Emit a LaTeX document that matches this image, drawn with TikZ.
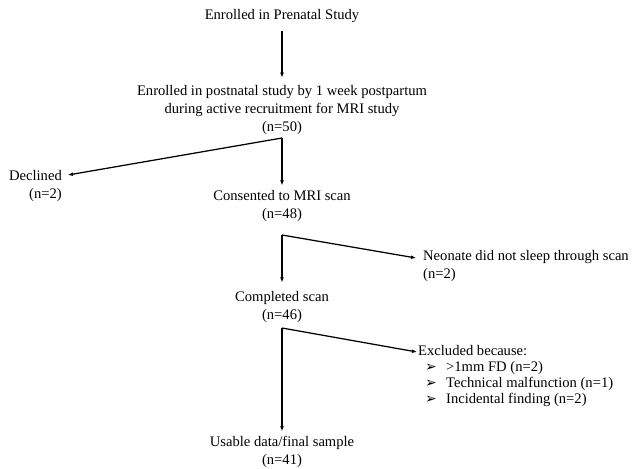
\documentclass[tikz,border=0pt]{standalone}
\usepackage{fontspec}
\setmainfont{Liberation Serif}
\newfontfamily\dingfont{DejaVu Sans}
\usetikzlibrary{arrows.meta}
\newcommand{\exitem}[1]{\hspace*{7pt}\makebox[21pt][l]{\dingfont\fontsize{14}{14}\selectfont ➢}#1}
\begin{document}
\begin{tikzpicture}[x=1pt,y=-1pt,font=\fontsize{14.6}{17.6}\selectfont,
  box/.style={inner sep=0pt, align=center},
  flow/.style={line width=1.25pt, -{Latex[length=5pt,width=4pt]}}]
\useasboundingbox (0,0) rectangle (633,469);
\node[box] (pre) at (282,16){Enrolled in Prenatal Study};
\node[box] (post) at (282,110){Enrolled in postnatal study by 1 week postpartum\\during active recruitment for MRI study\\(n=50)};
\draw[flow, shorten <=8pt, shorten >=8pt](pre) -- (post);
\coordinate (b1) at (282,138);
\node[box, align=right, anchor=east] (decl) at (62,186){Declined\\(n=2)};
\node[box] (consent) at (282,206){Consented to MRI scan\\(n=48)};
\draw[flow](b1) -- ([xshift=6pt,yshift=11pt]decl.east);
\draw[flow, shorten >=5pt](b1) -- (consent);
\coordinate (b2) at (282,235);
\node[box, align=left, anchor=west] (sleep) at (423,266){Neonate did not sleep through scan\\(n=2)};
\node[box] (scan) at (282,307){Completed scan\\(n=46)};
\draw[flow](b2) -- ([xshift=-7pt,yshift=8pt]sleep.west);
\draw[flow, shorten >=9pt](b2) -- (scan);
\coordinate (b3) at (282,328);
\node[box, align=left, anchor=west, font=\fontsize{14.6}{16.3}\selectfont] (excl) at (418,376){Excluded because:\\\exitem{>1mm FD (n=2)}\\\exitem{Technical malfunction (n=1)}\\\exitem{Incidental finding (n=2)}};
\node[box] (final) at (282,452){Usable data/final sample\\(n=41)};
\draw[flow](b3) -- ([xshift=-1pt,yshift=24pt]excl.west);
\draw[flow, shorten >=5pt](b3) -- (final);
\end{tikzpicture}
\end{document}
